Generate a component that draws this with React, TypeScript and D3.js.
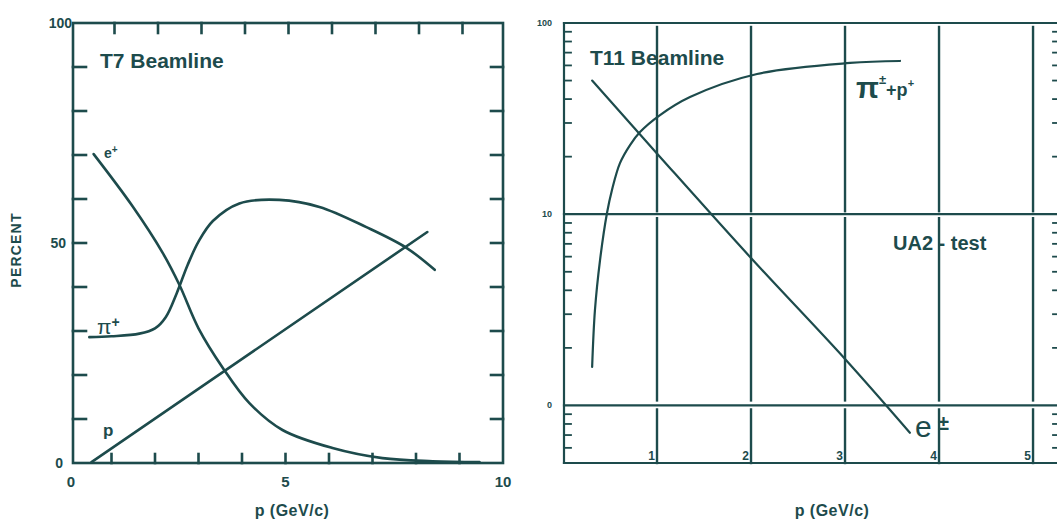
import React from "react";
import * as d3 from "d3";

// ---- T7 beamline composition (percent vs momentum) ----
const t7Electron: [number, number][] = [
  [0.59, 70.2], [1.48, 58.4], [2.18, 47.7], [2.56, 40.5],
  [3.0, 30.6], [3.56, 21.6], [4.17, 13.6], [4.93, 7.5], [6.08, 3.4],
  [7.23, 1.1], [8.38, 0.4], [9.46, 0.2],
];
const t7Pion: [number, number][] = [
  [0.49, 28.6], [1.0, 28.8], [1.64, 29.4], [2.0, 30.6], [2.25, 33.2],
  [2.5, 38.6], [2.75, 45.0], [3.0, 50.3], [3.33, 55.0], [3.94, 59.0],
  [4.86, 59.8], [5.78, 58.2], [6.86, 53.6], [7.78, 48.9], [8.43, 43.9],
];
const t7Proton: [number, number][] = [
  [0.54, 0.2], [8.26, 52.5],
];
const t7XTicks = [1, 2, 3, 4, 5, 6, 7, 8, 9];
const t7YTicks = [10, 20, 30, 40, 50, 60, 70, 80, 90];
const t7XLabels = [0, 5, 10];
const t7YLabels = [100, 50, 0];

// ---- T11 beamline composition (log percent vs momentum) ----
const t11Hadron: [number, number][] = [
  [0.31, 1.59], [0.34, 3.16], [0.394, 5.76], [0.468, 10.15], [0.521, 13.4],
  [0.606, 18.5], [0.713, 23.0], [0.819, 26.9], [1.032, 33.0], [1.351, 41.0],
  [2.064, 54.1], [3.053, 61.8], [3.585, 63.3],
];
const t11Electron: [number, number][] = [
  [0.31, 50], [1.03, 20], [2.0, 5.9], [3.0, 1.75], [3.69, 0.72],
];
const t11Grid = [1, 2, 3, 4, 5];
const t11Decades = [10, 1];
const t11Minor = [
  0.6, 0.7, 0.8, 0.9,
  2, 3, 4, 5, 6, 7, 8, 9,
  20, 30, 40, 50, 60, 70, 80, 90,
];
const t11YLabels: [number, string][] = [[100, "100"], [10, "10"], [1, "0"]];

const INK = "#1d4b4c";
const FONT = "'Liberation Sans', Arial, Helvetica, sans-serif";

export default function App() {
  // left panel scales
  const lx = d3.scaleLinear().domain([0, 10]).range([68, 503]);
  const ly = d3.scaleLinear().domain([0, 100]).range([463, 23]);
  // right panel scales
  const rx = d3.scaleLinear().domain([0, 5.34]).range([563, 1065]);
  const ry = d3.scaleLog().domain([0.5, 100]).range([463, 23]);

  const lLine = d3
    .line<[number, number]>()
    .x((d) => lx(d[0]))
    .y((d) => ly(d[1]))
    .curve(d3.curveCatmullRom.alpha(0.5));
  const rLine = d3
    .line<[number, number]>()
    .x((d) => rx(d[0]))
    .y((d) => ry(d[1]))
    .curve(d3.curveCatmullRom.alpha(0.5));

  const L = { x0: 73, x1: 503, y0: 23, y1: 463 };
  const R = { x0: 564, x1: 1065, y0: 23, y1: 463 };
  const y10 = ry(10);
  const y1 = ry(1);

  // vertical grid segments, broken where they meet the decade lines
  const gridSegs: [number, number][] = [
    [R.y0 + 4, y10 - 3],
    [y10 + 4, y1 - 5],
    [y1 + 4, R.y1],
  ];

  return (
    <svg
      width={1057}
      height={523}
      viewBox="0 0 1057 523"
      style={{ position: "absolute", left: 0, top: 0, background: "#fff" }}
      fontFamily={FONT}
    >
      <rect x={0} y={0} width={1057} height={523} fill="#ffffff" />

      {/* ===== Left panel: T7 ===== */}
      <g stroke={INK} fill="none" strokeWidth={2.6} strokeLinecap="square">
        <rect x={L.x0} y={L.y0} width={L.x1 - L.x0} height={L.y1 - L.y0} />
        {t7XTicks.map((t) => (
          <g key={"lx" + t}>
            <line x1={lx(t)} x2={lx(t)} y1={L.y1} y2={L.y1 - 9} />
            <line x1={lx(t) + 3} x2={lx(t) + 3} y1={L.y0} y2={L.y0 + 10} />
          </g>
        ))}
        {t7YTicks.map((t) => (
          <g key={"ly" + t}>
            <line x1={L.x0} x2={L.x0 + 13} y1={ly(t)} y2={ly(t)} />
            <line x1={L.x1} x2={L.x1 - 12} y1={ly(t)} y2={ly(t)} />
          </g>
        ))}
      </g>
      <g stroke={INK} fill="none" strokeWidth={2.6} strokeLinecap="round">
        <path d={lLine(t7Electron) ?? ""} />
        <path d={lLine(t7Pion) ?? ""} />
        <path d={lLine(t7Proton) ?? ""} />
      </g>
      <g fill={INK} fontWeight="bold">
        {t7YLabels.map((v) => (
          <text key={"yl" + v} x={v === 0 ? 63 : v === 50 ? 66 : 72} y={ly(v) + 5} fontSize={14} textAnchor="end">
            {v}
          </text>
        ))}
        {t7XLabels.map((v) => (
          <text key={"xl" + v} x={lx(v) + (v === 0 ? 3 : 0)} y={487} fontSize={15} textAnchor="middle">
            {v}
          </text>
        ))}
        <text x={292} y={516} fontSize={16} textAnchor="middle" letterSpacing={0.5}>
          p (GeV/c)
        </text>
        <text
          transform="translate(21,250) rotate(-90)"
          fontSize={14}
          textAnchor="middle"
          letterSpacing={1.2}
        >
          PERCENT
        </text>
        <text x={100} y={68} fontSize={21}>
          T7 Beamline
        </text>
        <text x={104} y={158} fontSize={14}>
          e
          <tspan fontSize={10} dy={-5}>+</tspan>
        </text>
        <text x={97} y={334} fontSize={21} fontWeight="normal">
          π
          <tspan fontSize={14} dy={-7} fontWeight="bold">+</tspan>
        </text>
        <text x={103} y={436} fontSize={17}>
          p
        </text>
      </g>

      {/* ===== Right panel: T11 ===== */}
      <g stroke={INK} fill="none" strokeWidth={2.2} strokeLinecap="square">
        <line x1={R.x0} x2={R.x0} y1={R.y0} y2={R.y1} />
        <line x1={R.x1} x2={R.x1} y1={R.y0} y2={R.y1} />
        <line x1={R.x0} x2={R.x1} y1={R.y0} y2={R.y0} />
        <line x1={R.x0} x2={R.x1} y1={R.y1} y2={R.y1} />
        {t11Decades.map((v) => (
          <line key={"dec" + v} x1={R.x0} x2={R.x1} y1={ry(v)} y2={ry(v)} />
        ))}
        {t11Grid.map((g) =>
          gridSegs.map(([a, b], i) => (
            <line key={"g" + g + "_" + i} x1={rx(g)} x2={rx(g)} y1={a} y2={b} strokeWidth={2.4} />
          ))
        )}
        {t11Minor.map((v) => (
          <g key={"mt" + v}>
            <line x1={R.x0} x2={R.x0 + 7} y1={ry(v)} y2={ry(v)} strokeWidth={1.8} />
            <line x1={R.x1} x2={R.x1 - 12} y1={ry(v)} y2={ry(v)} strokeWidth={1.8} />
          </g>
        ))}
      </g>
      <g stroke={INK} fill="none" strokeWidth={2.2} strokeLinecap="round">
        <path d={rLine(t11Hadron) ?? ""} />
        <path d={rLine(t11Electron) ?? ""} />
      </g>
      <g fill={INK} fontWeight="bold">
        {t11YLabels.map(([v, s]) => (
          <text key={"ryl" + v} x={552} y={ry(v) + 3} fontSize={9} textAnchor="end">
            {s}
          </text>
        ))}
        {t11Grid.map((g) => (
          <text key={"rxl" + g} x={rx(g) - 2} y={460} fontSize={12} textAnchor="end">
            {g}
          </text>
        ))}
        <text x={832} y={516} fontSize={16} textAnchor="middle" letterSpacing={0.5}>
          p (GeV/c)
        </text>
        <text x={590} y={65} fontSize={21}>
          T11 Beamline
        </text>
        <text x={893} y={250} fontSize={20}>
          UA2 - test
        </text>
        <text x={856} y={98} fontSize={30} fontWeight="bold">
          π
          <tspan fontSize={13} dy={-14}>±</tspan>
          <tspan fontSize={18} dy={12}>+p</tspan>
          <tspan fontSize={11} dy={-9}>+</tspan>
        </text>
        <text x={915} y={437} fontSize={30} fontWeight="normal">
          e
        </text>
        <text x={938} y={430} fontSize={20}>
          ±
        </text>
      </g>
    </svg>
  );
}
